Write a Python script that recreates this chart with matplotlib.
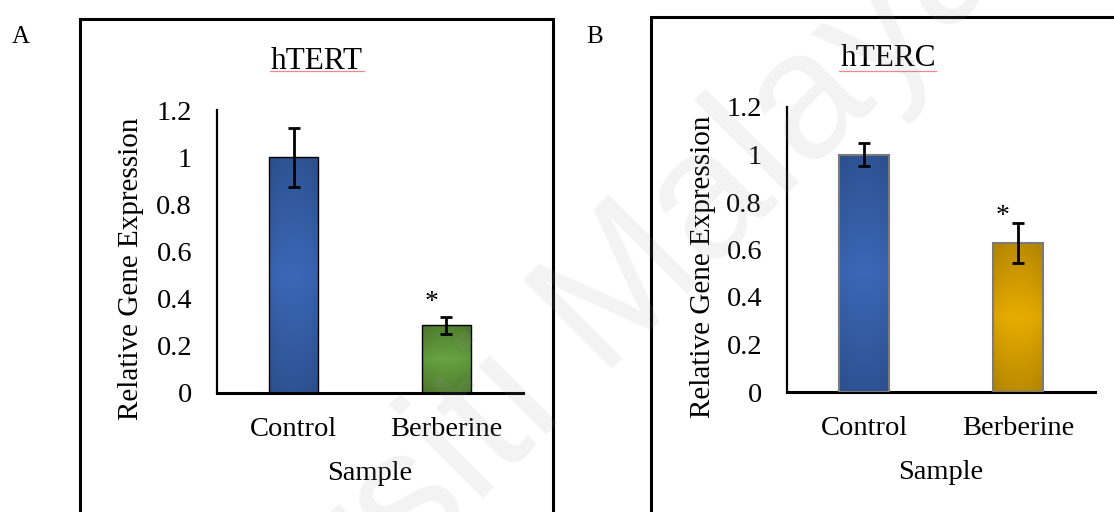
import matplotlib
matplotlib.use("Agg")
import matplotlib.pyplot as plt
import numpy as np
from matplotlib.patches import Rectangle
from matplotlib.lines import Line2D

# donnees
categories = ["Control", "Berberine"]
htert_mean = [1.0, 0.288]
htert_err = [0.125, 0.036]
hterc_mean = [1.0, 0.626]
hterc_err = [0.048, 0.084]
# hauteur des asterisques (significativite)
htert_star = 0.385
hterc_star = 0.74
y_ticks = [0, 0.2, 0.4, 0.6, 0.8, 1.0, 1.2]
y_tick_labels = ["0", "0.2", "0.4", "0.6", "0.8", "1", "1.2"]

plt.rcParams['font.family'] = ['Liberation Serif', 'DejaVu Serif']

W, H = 1114, 512
fig = plt.figure(figsize=(W / 100, H / 100), dpi=100)


def px(x, y):
    # pixel (haut-gauche) -> coordonnees figure
    return x / W, 1 - y / H


def gradient(dark, light, n=120):
    yy, xx = np.mgrid[0:1:n * 1j, 0:1:n * 1j]
    t = 0.85 * np.abs(yy - 0.5) * 2 + 0.25 * (np.abs(xx - 0.5) * 2) ** 2
    t = np.clip(t, 0, 1)[..., None]
    dark = np.array(matplotlib.colors.to_rgb(dark))
    light = np.array(matplotlib.colors.to_rgb(light))
    return light + (dark - light) * t


def panel(rect, title, mean, err, star_y, colors, edge, edge_lw, title_x, ylab_x):
    ax = fig.add_axes(rect)
    x = np.arange(len(categories))
    bars = ax.bar(x, mean, width=0.32, color=[c[1] for c in colors], zorder=2)
    for b, c in zip(bars, colors):
        im = ax.imshow(gradient(c[0], c[1]), extent=[b.get_x(), b.get_x() + b.get_width(), 0, b.get_height()],
                       aspect='auto', zorder=2.5, interpolation='bicubic')
        im.set_clip_path(b)
    ax.bar(x, mean, width=0.32, fill=False, edgecolor=edge, linewidth=edge_lw, zorder=3)
    ax.errorbar(x, mean, yerr=err, fmt='none', ecolor='black', elinewidth=2.0,
                capsize=4, capthick=2.0, zorder=4)
    ax.text(x[1] - 0.1, star_y, "*", ha='center', va='center', fontsize=20)

    ax.set_xlim(-0.5, 1.5)
    ax.set_ylim(0, 1.2)
    ax.set_yticks(y_ticks)
    ax.set_yticklabels(y_tick_labels, fontsize=20.5)
    ax.set_xticks(x)
    ax.set_xticklabels(categories, fontsize=20.5)
    ax.tick_params(axis='y', length=0, pad=18)
    ax.tick_params(axis='x', length=0, pad=17.5)
    for s in ['top', 'right']:
        ax.spines[s].set_visible(False)
    ax.spines['left'].set_linewidth(1.6)
    ax.spines['bottom'].set_linewidth(2.2)
    ax.set_facecolor('none')

    ax.set_ylabel("Relative Gene Expression", fontsize=21)
    ax.yaxis.set_label_coords(ylab_x, 0.438)
    ax.yaxis.label.set_verticalalignment('center')
    ax.set_xlabel("Sample", fontsize=20.5)
    ax.xaxis.set_label_coords(0.5, -0.283)
    ax.xaxis.label.set_verticalalignment('center')
    ax.set_title(title, fontsize=22.5, x=title_x, y=1.17, va='center', pad=0)
    return ax


blue = ('#2c508e', '#3b67b6')
green = ('#4d782c', '#66a342')
gold = ('#b38500', '#e8ad00')

x0, y0 = px(217, 393)
x1, y1 = px(523, 110)
panel([x0, y0, x1 - x0, y1 - y0], "hTERT", htert_mean, htert_err, htert_star,
      [blue, green], 'black', 1.0, 0.327, -0.281)

x0, y0 = px(787, 392)
x1, y1 = px(1095, 107)
panel([x0, y0, x1 - x0, y1 - y0], "hTERC", hterc_mean, hterc_err, hterc_star,
      [blue, gold], '#7a7a7a', 1.5, 0.329, -0.273)

# cadres des graphiques
bx, by = px(80, 19)
fig.add_artist(Rectangle((bx, -0.2), 473 / W, by + 0.2, transform=fig.transFigure,
                         fill=False, edgecolor='black', linewidth=2.2))
bx, by = px(651, 16.5)
fig.add_artist(Rectangle((bx, -0.2), 0.6, by + 0.2, transform=fig.transFigure,
                         fill=False, edgecolor='black', linewidth=2.2))

# soulignement rouge du correcteur
for xa, xb in [(270, 364), (839, 936)]:
    fig.add_artist(Line2D([xa / W, xb / W], [1 - 71 / H] * 2, transform=fig.transFigure,
                          color='#f08888', linewidth=0.9))

fig.text(*px(21, 37), "A", fontsize=18, ha='center', va='center')
fig.text(*px(595, 37), "B", fontsize=18, ha='center', va='center')

# filigrane
fig.text(*px(495, 420), "Universiti Malaya", fontsize=130, family='Liberation Sans',
         color='0.6', alpha=0.12, rotation=45, ha='center', va='center',
         rotation_mode='anchor', zorder=10)

fig.savefig("out.png", dpi=100)
